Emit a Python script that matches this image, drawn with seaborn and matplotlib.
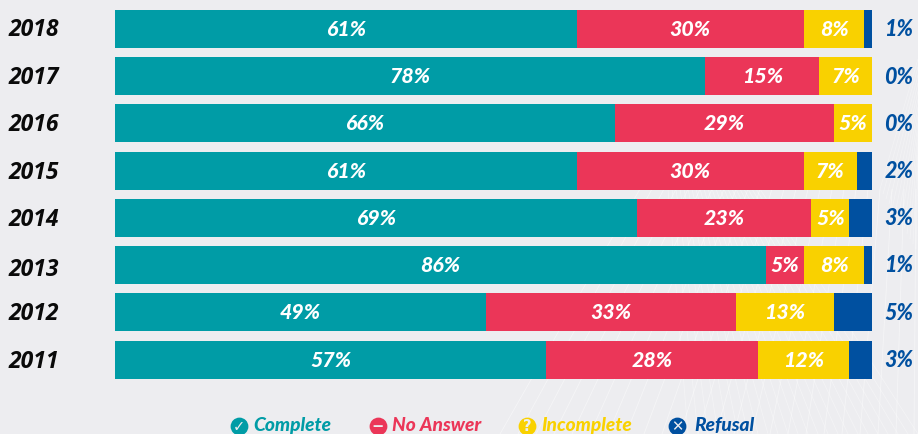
import matplotlib
matplotlib.use("Agg")
import matplotlib.pyplot as plt
from matplotlib.lines import Line2D
import pandas as pd
import seaborn as sns

years = ["2018", "2017", "2016", "2015", "2014", "2013", "2012", "2011"]
complete = [61, 78, 66, 61, 69, 86, 49, 57]
no_answer = [30, 15, 29, 30, 23, 5, 33, 28]
incomplete = [8, 7, 5, 7, 5, 8, 13, 12]
refusal = [1, 0, 0, 2, 3, 1, 5, 3]
series_names = ["Complete", "No Answer", "Incomplete", "Refusal"]
colors = ["#009CA6", "#EB3658", "#F9D100", "#0050A0"]
icons = ["\u2713", "\u2212", "?", "\u2715"]

BG = "#EDEDF0"
W, H = 918, 435
df = pd.DataFrame(dict(zip(series_names, [complete, no_answer, incomplete, refusal])), index=years)
sns.set_theme(style="white", rc={"font.family": ["Lato", "DejaVu Sans"]})
fig = plt.figure(figsize=(W / 100, H / 100), dpi=100, facecolor=BG)
ax = fig.add_axes([115 / W, 1 - 384.4 / H, 757 / W, (384.4 - 6.0) / H])
ax.set_facecolor("none")

# faint white mesh in the background
bgax = fig.add_axes([0, 0, 1, 1], zorder=-1)
bgax.set_xlim(0, W); bgax.set_ylim(H, 0); bgax.axis("off")
for i in range(24):
    bgax.plot([500 + i * 18, 640 + i * 12], [H, 190], color="white", lw=0.6, alpha=0.45)
    bgax.plot([918 - i * 10, 760 - i * 4], [H, 190], color="white", lw=0.6, alpha=0.35)
    bgax.plot([880 + i * 3, 918], [190 + i * 5, 60 + i * 8], color="white", lw=0.6, alpha=0.3)

left = pd.Series(0, index=years, dtype=float)
for name, color in zip(series_names, colors):
    long = pd.DataFrame({"year": years, "value": df[name].values, "left": left.values})
    sns.barplot(data=long, y="year", x="value", order=years, orient="h", color=color,
                saturation=1, width=0.803, left=long["left"].values, ax=ax, linewidth=0, errorbar=None)
    if name != "Refusal":
        for i, (v, l) in enumerate(zip(long["value"], long["left"])):
            ax.text(l + v / 2, i - 0.01, f"{v}%", color="white", ha="center", va="center",
                    fontsize=15.3, fontweight="black", style="italic")
    left = left + df[name]

ax.set_xlim(0, 100)
ax.set_ylim(7.5, -0.5)
ax.set_xlabel(""); ax.set_ylabel("")
ax.set_xticks([]); ax.set_yticks([])
sns.despine(ax=ax, left=True, bottom=True)

year_px = [30.5, 78.5, 125.5, 173, 220, 270, 314, 362]
for i, y in enumerate(years):
    fig.text(9 / W, 1 - year_px[i] / H, y, color="#0A0A0A", fontsize=16.5, fontweight="bold", style="italic",
             family="Open Sans", ha="left", va="center")
    fig.text(899 / W, 1 - (30 + i * 47.2) / H, f"{refusal[i]}%", color=colors[3], fontsize=15.5, fontweight="black",
             style="italic", ha="center", va="center")

icon_x = [239, 378, 527, 677]
text_x = [253, 392, 541, 694]
for name, color, icon, ix, tx in zip(series_names, colors, icons, icon_x, text_x):
    fig.add_artist(Line2D([ix / W], [1 - 426.5 / H], marker="o", ms=12.8, color=color, mew=0, transform=fig.transFigure))
    fig.text(ix / W, 1 - 426.5 / H, icon, color=BG, fontsize=10.5, fontweight="bold", family="DejaVu Sans",
             ha="center", va="center")
    fig.text(tx / W, 1 - 425.5 / H, name, color=color, fontsize=13.8, fontweight="black", style="italic",
             ha="left", va="center")

fig.savefig("out.png", dpi=100, facecolor=BG)
